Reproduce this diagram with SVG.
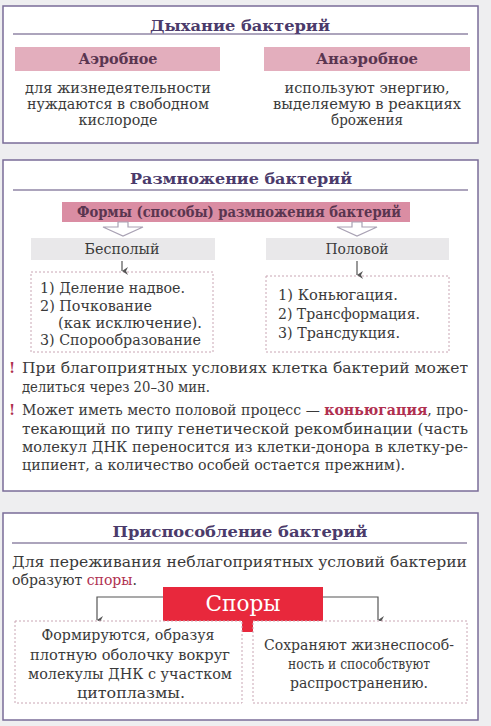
<svg xmlns="http://www.w3.org/2000/svg" width="491" height="726" viewBox="0 0 491 726">
<style>
text{font-family:"DejaVu Serif","Liberation Serif",serif;}
.ttl{font-size:15px;font-weight:bold;fill:#4b3b6b;text-anchor:middle;}
.hd{font-size:14px;font-weight:bold;fill:#5a3550;text-anchor:middle;}
.b{font-size:14px;fill:#3a3a3a;}
.c{text-anchor:middle;}
.red{fill:#b03050;}
.panel{fill:#ffffff;stroke:#7a6c98;stroke-width:1.5;}
.ul{stroke:#5a4a7a;stroke-width:1.2;}
.pink{fill:#e3aebd;}
.gray{fill:#e9e8ea;}
.dash{fill:#ffffff;stroke:#c9a6b4;stroke-width:1;stroke-dasharray:2 2;}
.hollow{fill:#ffffff;stroke:#a9a2b4;stroke-width:1.2;}
.con{fill:none;stroke:#555;stroke-width:1.2;}
</style>
<defs>
<marker id="ah" markerWidth="8" markerHeight="8" refX="4" refY="6" orient="auto" markerUnits="userSpaceOnUse" viewBox="0 0 8 8">
<path d="M0,0 L4,6 L8,0 L4,2 Z" fill="#555"/>
</marker>
</defs>
<rect x="0" y="0" width="491" height="726" fill="#eeeef0"/>

<g id="panel-breathing">
<rect class="panel" x="3" y="6" width="475" height="137"/>
<text class="ttl" x="240" y="31" textLength="180" lengthAdjust="spacingAndGlyphs">Дыхание бактерий</text>
<line class="ul" x1="13" y1="34" x2="468" y2="34"/>
</g>
<g id="node-aerobic">
<rect class="pink" x="15" y="47" width="205" height="24"/>
<text class="hd" x="118" y="64" textLength="79" lengthAdjust="spacingAndGlyphs">Аэробное</text>
<text class="b c" x="118" y="93" textLength="186" lengthAdjust="spacingAndGlyphs">для жизнедеятельности</text>
<text class="b c" x="118" y="109" textLength="182" lengthAdjust="spacingAndGlyphs">нуждаются в свободном</text>
<text class="b c" x="118" y="125" textLength="79" lengthAdjust="spacingAndGlyphs">кислороде</text>
</g>
<g id="node-anaerobic">
<rect class="pink" x="264" y="47" width="206" height="24"/>
<text class="hd" x="367" y="64" textLength="102" lengthAdjust="spacingAndGlyphs">Анаэробное</text>
<text class="b c" x="367" y="93" textLength="165" lengthAdjust="spacingAndGlyphs">используют энергию,</text>
<text class="b c" x="367" y="109" textLength="188" lengthAdjust="spacingAndGlyphs">выделяемую в реакциях</text>
<text class="b c" x="367" y="125" textLength="72" lengthAdjust="spacingAndGlyphs">брожения</text>
</g>

<g id="panel-reproduction">
<rect class="panel" x="3" y="160" width="475" height="331"/>
<text class="ttl" x="241" y="184" textLength="222" lengthAdjust="spacingAndGlyphs">Размножение бактерий</text>
<line class="ul" x1="13" y1="190" x2="468" y2="190"/>
</g>
<g id="node-forms">
<rect x="62" y="202" width="348" height="20" fill="#da8da3"/>
<text class="hd" x="239" y="217" textLength="324" lengthAdjust="spacingAndGlyphs">Формы (способы) размножения бактерий</text>
</g>
<g id="node-asexual">
<rect class="gray" x="31" y="238" width="184" height="22"/>
<text class="b c" x="122" y="254" textLength="75" lengthAdjust="spacingAndGlyphs">Бесполый</text>
</g>
<g id="node-sexual">
<rect class="gray" x="266" y="238" width="183" height="22"/>
<text class="b c" x="357" y="254" textLength="63" lengthAdjust="spacingAndGlyphs">Половой</text>
</g>
<g id="node-asexual-list">
<rect class="dash" x="31" y="272" width="182" height="80"/>
<text class="b" x="40" y="293" textLength="145" lengthAdjust="spacingAndGlyphs">1) Деление надвое.</text>
<text class="b" x="40" y="311" textLength="112" lengthAdjust="spacingAndGlyphs">2) Почкование</text>
<text class="b" x="58" y="328" textLength="144" lengthAdjust="spacingAndGlyphs">(как исключение).</text>
<text class="b" x="40" y="345" textLength="161" lengthAdjust="spacingAndGlyphs">3) Спорообразование</text>
</g>
<g id="node-sexual-list">
<rect class="dash" x="266" y="276" width="183" height="76"/>
<text class="b" x="278" y="300" textLength="120" lengthAdjust="spacingAndGlyphs">1) Коньюгация.</text>
<text class="b" x="278" y="319" textLength="142" lengthAdjust="spacingAndGlyphs">2) Трансформация.</text>
<text class="b" x="278" y="338" textLength="122" lengthAdjust="spacingAndGlyphs">3) Трансдукция.</text>
</g>
<g id="notes-reproduction">
<text class="b red" x="9" y="373" font-weight="bold">!</text>
<text class="b" x="22" y="373" textLength="446" lengthAdjust="spacingAndGlyphs">При благоприятных условиях клетка бактерий может</text>
<text class="b" x="22" y="392" textLength="188" lengthAdjust="spacingAndGlyphs">делиться через 20–30 мин.</text>
<text class="b red" x="9" y="415" font-weight="bold">!</text>
<text class="b" x="22" y="415" textLength="446" lengthAdjust="spacingAndGlyphs">Может иметь место половой процесс — <tspan class="red" font-weight="bold">коньюгация</tspan>, про-</text>
<text class="b" x="22" y="434" textLength="446" lengthAdjust="spacingAndGlyphs">текающий по типу генетической рекомбинации (часть</text>
<text class="b" x="22" y="452" textLength="446" lengthAdjust="spacingAndGlyphs">молекул ДНК переносится из клетки-донора в клетку-ре-</text>
<text class="b" x="22" y="470" textLength="383" lengthAdjust="spacingAndGlyphs">ципиент, а количество особей остается прежним).</text>
</g>

<g id="panel-adaptation">
<rect class="panel" x="3" y="513" width="475" height="207"/>
<text class="ttl" x="240" y="537" textLength="255" lengthAdjust="spacingAndGlyphs">Приспособление бактерий</text>
<line class="ul" x1="12" y1="543" x2="467" y2="543"/>
<text class="b" x="12" y="567" textLength="455" lengthAdjust="spacingAndGlyphs">Для переживания неблагоприятных условий бактерии</text>
<text class="b" x="12" y="585" textLength="125" lengthAdjust="spacingAndGlyphs">образуют <tspan class="red">споры</tspan>.</text>
</g>
<g id="node-spores">
<rect x="163" y="587" width="160" height="45" fill="#e8283c"/>
<text x="243" y="611" font-size="22" fill="#ffffff" text-anchor="middle" textLength="75" lengthAdjust="spacingAndGlyphs">Споры</text>
</g>
<g id="connectors">
<path class="con" d="M163,597 H97 V620" marker-end="url(#ah)"/>
<path class="con" d="M323,597 H378 V620" marker-end="url(#ah)"/>
<path d="M118,222 L128,222 L128,227 L143,227 L123,236 L103,227 L118,227 Z" class="hollow"/>
<path d="M352,222 L362,222 L362,227 L377,227 L357,236 L337,227 L352,227 Z" class="hollow"/>
<path class="con" d="M122,261 V271" marker-end="url(#ah)"/>
<path class="con" d="M357,261 V275" marker-end="url(#ah)"/>
</g>
<g id="node-spore-formation">
<rect class="dash" x="15" y="621" width="227" height="82" stroke="#c98a9e"/>
<text class="b c" x="128" y="640" textLength="173" lengthAdjust="spacingAndGlyphs">Формируются, образуя</text>
<text class="b c" x="130" y="660" textLength="200" lengthAdjust="spacingAndGlyphs">плотную оболочку вокруг</text>
<text class="b c" x="130" y="679" textLength="204" lengthAdjust="spacingAndGlyphs">молекулы ДНК с участком</text>
<text class="b c" x="131" y="698" textLength="108" lengthAdjust="spacingAndGlyphs">цитоплазмы.</text>
</g>
<g id="node-spore-function">
<rect class="dash" x="253" y="621" width="214" height="82" stroke="#c98a9e"/>
<text class="b c" x="359" y="650" textLength="190" lengthAdjust="spacingAndGlyphs">Сохраняют жизнеспособ-</text>
<text class="b c" x="359" y="669" textLength="142" lengthAdjust="spacingAndGlyphs">ность и способствуют</text>
<text class="b c" x="359" y="688" textLength="138" lengthAdjust="spacingAndGlyphs">распространению.</text>
</g>
</svg>
